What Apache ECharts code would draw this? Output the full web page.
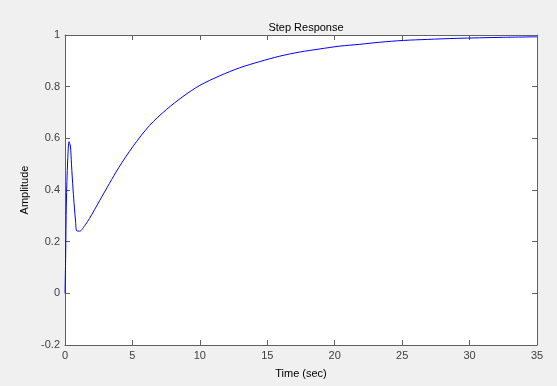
<!DOCTYPE html>
<html>
<head>
<meta charset="utf-8">
<script src="https://cdn.jsdelivr.net/npm/echarts@6/dist/echarts.min.js"></script>
<style>
html,body{margin:0;padding:0;background:#f0f0f0;}
#c{width:557px;height:386px;}
</style>
</head>
<body>
<div id="c"></div>
<script>
const timeValues = [0, 0.05, 0.1, 0.2, 0.3, 0.4, 0.48, 0.6, 0.7, 0.78, 0.88, 1.1, 1.5, 1.82, 2.56, 3.3, 4.0, 5.03, 6.27, 7.51, 8.75, 10, 11.47, 12.95, 14.44, 15.92, 17.4, 18.9, 20.38, 21.86, 23.34, 25.1, 26.9, 29, 32.5, 35];
const amplitudeValues = [0, 0.144, 0.35, 0.516, 0.587, 0.57, 0.50, 0.40, 0.33, 0.28, 0.241, 0.241, 0.265, 0.29, 0.358, 0.426, 0.488, 0.568, 0.650, 0.711, 0.762, 0.805, 0.842, 0.873, 0.897, 0.918, 0.934, 0.946, 0.957, 0.964, 0.972, 0.979, 0.983, 0.987, 0.991, 0.993];
const titleText = 'Step Response';
const xLabel = 'Time (sec)';
const yLabel = 'Amplitude';

const data = timeValues.map((t, i) => [t, amplitudeValues[i]]);
const axisColor = '#606060';
const labelColor = '#404040';
const font = 'Liberation Sans, Arial, sans-serif';

const chart = echarts.init(document.getElementById('c'), null, {renderer: 'canvas'});
chart.setOption({
  animation: false,
  backgroundColor: '#f0f0f0',
  title: {
    text: titleText, left: 301, top: 17, textAlign: 'center',
    textStyle: {fontSize: 11, fontWeight: 'normal', color: '#000', fontFamily: font}
  },
  grid: {left: 65, right: 20, top: 35, bottom: 41, show: true, backgroundColor: '#fff', borderWidth: 0},
  xAxis: [{
    type: 'value', min: 0, max: 35, interval: 5,
    name: xLabel, nameLocation: 'middle', nameGap: 23,
    nameTextStyle: {fontSize: 11, color: '#000', fontFamily: font},
    axisLine: {show: true, onZero: false, lineStyle: {color: axisColor, width: 1}},
    axisTick: {show: true, inside: true, length: 5, lineStyle: {color: axisColor}},
    axisLabel: {fontSize: 11, color: labelColor, margin: 5, fontFamily: font},
    splitLine: {show: false}
  }, {
    type: 'value', position: 'top', min: 0, max: 35, interval: 5,
    axisLine: {show: true, onZero: false, lineStyle: {color: axisColor, width: 1}},
    axisTick: {show: true, inside: true, length: 5, lineStyle: {color: axisColor}},
    axisLabel: {show: false}, splitLine: {show: false}
  }],
  yAxis: [{
    type: 'value', min: -0.2, max: 1, interval: 0.2,
    name: yLabel, nameLocation: 'middle', nameGap: 33,
    nameTextStyle: {fontSize: 11, color: '#000', fontFamily: font},
    axisLine: {show: true, onZero: false, lineStyle: {color: axisColor, width: 1}},
    axisTick: {show: true, inside: true, length: 5, lineStyle: {color: axisColor}},
    axisLabel: {fontSize: 11, color: labelColor, margin: 5, fontFamily: font,
      formatter: v => String(Math.round(v * 10) / 10)},
    splitLine: {show: false}
  }, {
    type: 'value', position: 'right', min: -0.2, max: 1, interval: 0.2,
    axisLine: {show: true, onZero: false, lineStyle: {color: axisColor, width: 1}},
    axisTick: {show: true, inside: true, length: 5, lineStyle: {color: axisColor}},
    axisLabel: {show: false}, splitLine: {show: false}
  }],
  series: [{
    type: 'line', data: data, showSymbol: false, smooth: 0.3,
    lineStyle: {color: '#0000ff', width: 1}, xAxisIndex: 0, yAxisIndex: 0
  }]
});
</script>
</body>
</html>
